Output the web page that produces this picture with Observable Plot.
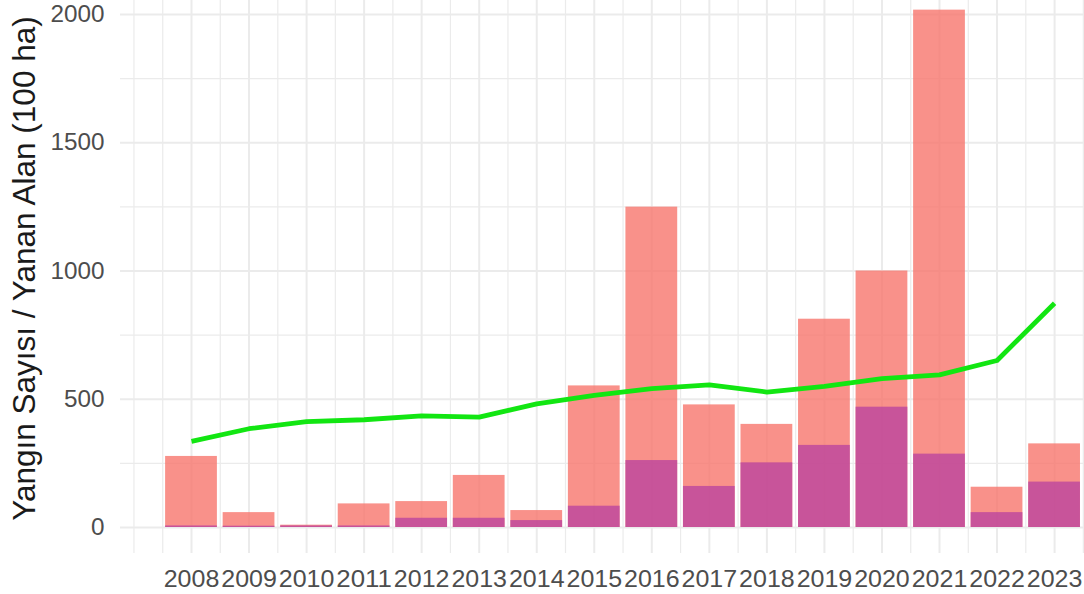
<!DOCTYPE html>
<html>
<head>
<meta charset="utf-8">
<script src="https://cdn.jsdelivr.net/npm/d3@7"></script>
<script src="https://cdn.jsdelivr.net/npm/@observablehq/plot@0.6"></script>
<style>
  html, body { margin: 0; padding: 0; background: #ffffff; }
  #chart { width: 1084px; height: 594px; }
</style>
</head>
<body>
<div id="chart"></div>
<script>
// ---- data ----
const years = [2008, 2009, 2010, 2011, 2012, 2013, 2014, 2015, 2016, 2017, 2018, 2019, 2020, 2021, 2022, 2023];
const redBars = [277, 58, 9, 92, 101, 203, 66, 552, 1249, 478, 402, 812, 1000, 2017, 157, 326];
const purpleBars = [6, 5, 6, 6, 36, 36, 27, 83, 261, 160, 252, 320, 469, 286, 58, 177];
const greenLine = [336, 385, 413, 420, 435, 430, 482, 515, 541, 556, 528, 550, 580, 595, 651, 874];
const yTicks = [0, 500, 1000, 1500, 2000];
const yMinor = [250, 750, 1250, 1750];
const xMinor = [2007, 2007.5, 2008.5, 2009.5, 2010.5, 2011.5, 2012.5, 2013.5, 2014.5, 2015.5, 2016.5, 2017.5, 2018.5, 2019.5, 2020.5, 2021.5, 2022.5, 2023.5];
const yTitle = "Yangın Sayısı / Yanan Alan (100 ha)";

const table = years.map((year, i) => ({
  year,
  red: redBars[i],
  purple: purpleBars[i],
  green: greenLine[i]
}));

const font = "'Liberation Sans', Arial, Helvetica, sans-serif";
const half = 0.45;

const svg = Plot.plot({
  width: 1084,
  height: 594,
  marginLeft: 120,
  marginRight: 0,
  marginTop: 0,
  marginBottom: 41,
  style: { fontFamily: font, fontSize: "24px", background: "#ffffff", overflow: "visible" },
  x: { type: "linear", domain: [2006.766, 2023.52], axis: null },
  y: { type: "linear", domain: [-101.4, 2054.6], axis: null },
  marks: [
    Plot.ruleX(xMinor, { stroke: "#ebebeb", strokeWidth: 1.2 }),
    Plot.ruleX(years, { stroke: "#ebebeb", strokeWidth: 2 }),
    Plot.ruleY(yMinor, { stroke: "#ebebeb", strokeWidth: 1.2 }),
    Plot.ruleY(yTicks, { stroke: "#ebebeb", strokeWidth: 2 }),
    Plot.rectY(table, {
      x1: d => d.year - half, x2: d => d.year + half,
      y1: 0, y2: "red",
      fill: "#F8766D", fillOpacity: 0.8
    }),
    Plot.rectY(table, {
      x1: d => d.year - half, x2: d => d.year + half,
      y1: 0, y2: "purple",
      fill: "#B43BA1", fillOpacity: 0.7
    }),
    Plot.line(table, {
      x: "year", y: "green",
      stroke: "#12e612", strokeWidth: 4.8,
      strokeLinejoin: "round", strokeLinecap: "butt"
    }),
    Plot.axisX(years, {
      tickSize: 0, tickPadding: 16, fontSize: 24, fill: "#4d4d4d",
      tickFormat: d => String(d), label: null
    }),
    Plot.axisY(yTicks, {
      tickSize: 0, tickPadding: 16, fontSize: 24, fill: "#4d4d4d",
      tickFormat: d => String(d), label: null
    })
  ]
});

// widen tick label glyphs to match the reference's proportions
d3.select(svg).selectAll('g[aria-label="x-axis tick label"] text')
  .attr("textLength", function () { return this.textContent.length * 13.9; })
  .attr("lengthAdjust", "spacingAndGlyphs");
d3.select(svg).selectAll('g[aria-label="y-axis tick label"] text')
  .attr("textLength", function () { return this.textContent.length * 13.5; })
  .attr("lengthAdjust", "spacingAndGlyphs");

d3.select(svg).append("text")
  .attr("transform", "translate(35,268.5) rotate(-90)")
  .attr("text-anchor", "middle")
  .attr("font-family", font)
  .attr("font-size", 31.5)
  .attr("fill", "#1a1a1a")
  .text(yTitle);

document.getElementById("chart").appendChild(svg);
</script>
</body>
</html>
